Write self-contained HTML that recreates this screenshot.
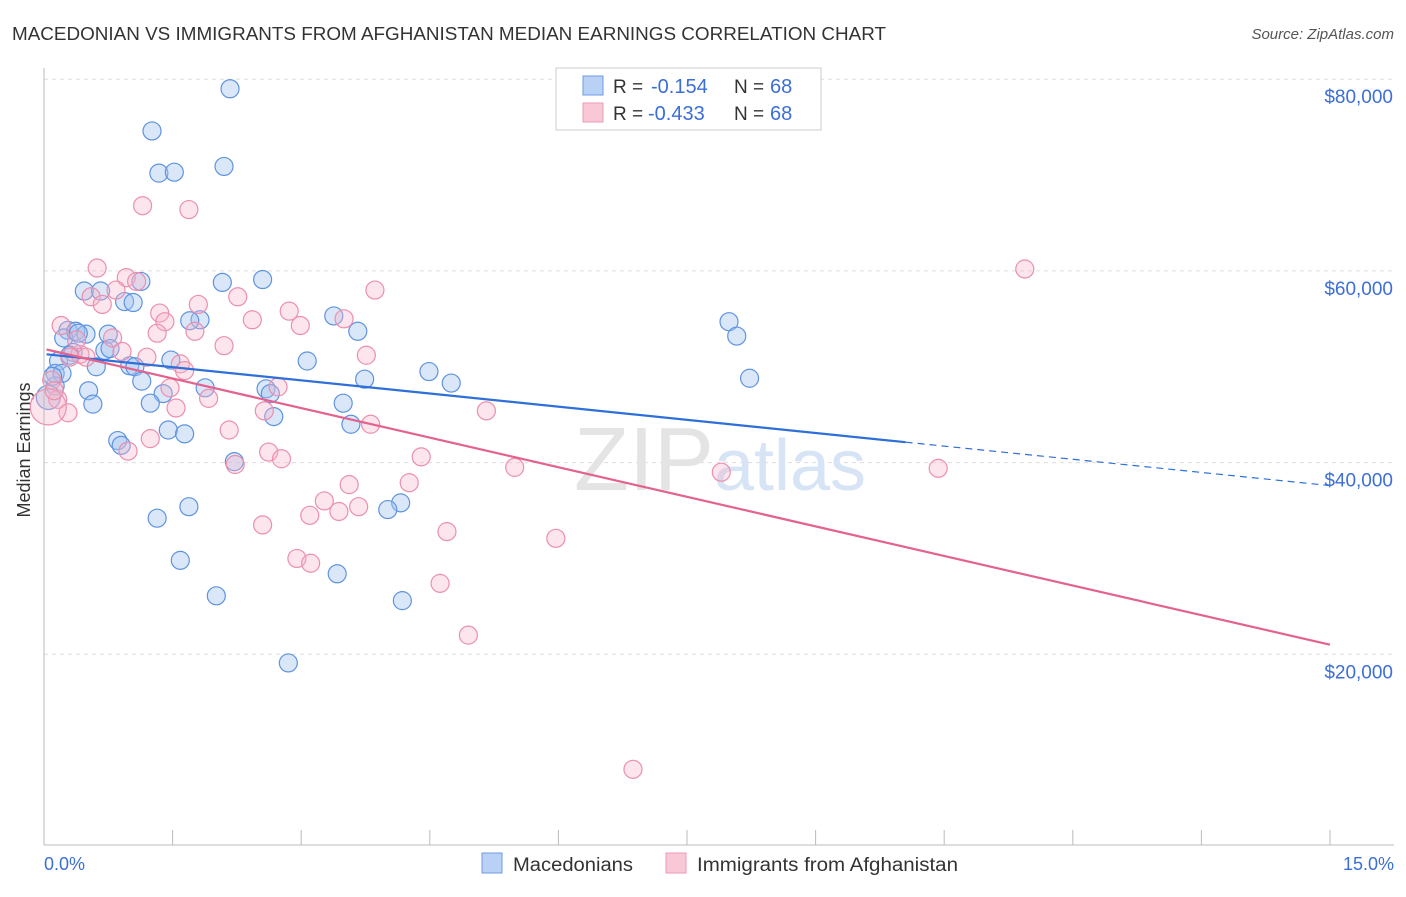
<!DOCTYPE html>
<html><head><meta charset="utf-8"><style>
body{margin:0;background:#fff;font-family:"Liberation Sans",sans-serif;}
svg text{font-family:"Liberation Sans",sans-serif;}
</style></head><body>
<svg id="chart" width="1406" height="892" viewBox="0 0 1406 892">
<text x="12" y="40" font-size="18" fill="#333" textLength="874" lengthAdjust="spacingAndGlyphs">MACEDONIAN VS IMMIGRANTS FROM AFGHANISTAN MEDIAN EARNINGS CORRELATION CHART</text>
<text x="1394" y="39" font-size="15" fill="#555" text-anchor="end" font-style="italic">Source: ZipAtlas.com</text>
<text x="38" y="458" font-size="18" fill="#333" text-anchor="middle" transform="rotate(-90 30 458)">Median Earnings</text>
<g id="grid"></g>
<text x="720" y="490" font-size="90" fill="#e4e4e4" text-anchor="middle" font-family="Liberation Serif">ZIP<tspan fill="#d6e4f5" font-family="Liberation Sans" font-size="72">atlas</tspan></text>
<g id="points"></g>
<g id="trends"></g>
<line x1="44" y1="68" x2="44" y2="845" stroke="#bbb"/>
<line x1="44" y1="845" x2="1394" y2="845" stroke="#bbb"/>
<g id="xticks"></g>
<text x="44" y="870" font-size="18" fill="#3b6fd6">0.0%</text>
<text x="1394" y="870" font-size="18" fill="#3b6fd6" text-anchor="end">15.0%</text>
<g>
<rect x="556" y="68" width="265" height="62" fill="#fff" stroke="#ccc"/>
<rect x="583" y="76" width="20" height="19" fill="#b9d1f5" stroke="#6d9be3"/>
<rect x="583" y="103" width="20" height="19" fill="#f9c8d7" stroke="#eb9ab4"/>
<text x="613" y="93" font-size="19" fill="#333">R =</text>
<text x="651" y="93" font-size="20" fill="#3b6fd6">-0.154</text>
<text x="734" y="93" font-size="19" fill="#333">N =</text>
<text x="770" y="93" font-size="20" fill="#3b6fd6">68</text>
<text x="613" y="120" font-size="19" fill="#333">R =</text>
<text x="648" y="120" font-size="20" fill="#3b6fd6">-0.433</text>
<text x="734" y="120" font-size="19" fill="#333">N =</text>
<text x="770" y="120" font-size="20" fill="#3b6fd6">68</text>
</g>
<g>
<rect x="482" y="853" width="20" height="20" fill="#b9d1f5" stroke="#6d9be3"/>
<text x="513" y="871" font-size="19" fill="#333" textLength="120" lengthAdjust="spacingAndGlyphs">Macedonians</text>
<rect x="666" y="853" width="20" height="20" fill="#f9c8d7" stroke="#eb9ab4"/>
<text x="697" y="871" font-size="19" fill="#333" textLength="261" lengthAdjust="spacingAndGlyphs">Immigrants from Afghanistan</text>
</g>
</svg>
<script>
const yTicks=[20000,40000,60000,80000];
const yTickLabels=["$20,000","$40,000","$60,000","$80,000"];
const xTicks=[0,1.5,3,4.5,6,7.5,9,10.5,12,13.5,15];
const blueX=[2.17,1.26,1.34,1.52,2.10,2.55,2.08,1.13,0.47,0.94,1.04,0.66,3.38,3.66,1.82,1.70,7.99,8.08,0.28,0.37,0.49,0.75,0.23,0.34,0.71,0.77,0.17,1.48,3.07,0.61,1.00,1.06,0.13,0.21,4.49,1.14,3.74,4.75,8.23,0.13,0.52,1.88,2.59,2.64,1.39,0.57,1.24,3.49,2.68,3.58,1.45,1.64,0.86,0.90,2.22,4.16,4.01,1.69,1.32,1.59,3.42,2.01,4.18,2.85,0.05,0.10,0.30,0.40];
const blueY=[79000,74600,70200,70300,70900,59100,58800,58900,57900,56800,56700,57900,55300,53700,54900,54800,54700,53200,53800,53700,53400,53400,53000,51500,51700,51900,50600,50700,50600,50000,50100,50000,49300,49300,49500,48500,48700,48300,48800,48000,47500,47800,47700,47200,47200,46100,46200,46200,44800,44000,43400,43000,42300,41800,40100,35800,35100,35400,34200,29800,28400,26100,25600,19100,46800,49000,51200,53500];
const pinkX=[1.15,1.69,0.62,11.44,0.96,1.08,0.84,3.86,0.55,0.68,2.26,1.80,2.86,1.35,1.41,2.43,3.50,0.20,2.99,1.32,1.76,0.80,2.10,0.91,0.42,0.49,1.20,3.76,1.59,1.64,0.09,1.47,2.73,1.92,0.16,1.54,0.28,5.16,2.57,3.81,2.16,1.24,0.98,2.62,2.77,4.40,2.23,5.49,7.90,10.43,4.26,3.56,3.27,3.67,3.44,3.10,2.55,4.70,5.97,2.95,3.11,4.62,4.95,6.87,0.05,0.12,0.30,0.38];
const pinkY=[66800,66400,60300,60200,59300,58900,58000,58000,57300,56500,57300,56500,55800,55600,54700,54900,55000,54300,54300,53500,53700,53000,52200,51600,51300,51000,51000,51200,50300,49600,48600,47800,47900,46700,46600,45700,45200,45400,45400,44000,43400,42500,41200,41100,40400,40600,39800,39500,39000,39400,37900,37700,36000,35400,34900,34500,33500,32800,32100,30000,29500,27400,22000,8000,45800,47500,51000,52800];
const blueTrend=[51300,37600];
const pinkTrend=[51800,21000];
const blueSolidEnd=10.05;
const NS="http://www.w3.org/2000/svg";
const X=v=>44+v/15*1286;
const Y=v=>846-v/20000*191.7;
function mk(t,a,p){const e=document.createElementNS(NS,t);for(const k in a)e.setAttribute(k,a[k]);p.appendChild(e);return e;}
const grid=document.getElementById('grid');
yTicks.forEach((v,i)=>{
 const l=mk('line',{x1:44,x2:1394,y1:Y(v),y2:Y(v),stroke:'#ddd','stroke-dasharray':'4,4'},grid);
 
 
 const t=mk('text',{x:1393,y:Y(v)+24,'font-size':19,fill:'#3b6fd6','text-anchor':'end'},grid);
 t.textContent=yTickLabels[i];
 
 
});
const xt=document.getElementById('xticks');
xTicks.forEach(v=>{
 const l=mk('line',{x1:X(v),x2:X(v),y1:830,y2:845,stroke:'#bbb'},xt);
 
 
});
const pts=document.getElementById('points');
blueX.forEach((x,i)=>{
 const c=mk('circle',{cx:X(x),cy:Y(blueY[i]),r:i==64?12:9,fill:'rgba(160,195,240,0.4)',stroke:'#5f93e0','stroke-width':1.2},pts);
 
 
});
pinkX.forEach((x,i)=>{
 const c=mk('circle',{cx:X(x),cy:Y(pinkY[i]),r:i==64?18:9,fill:'rgba(245,180,200,0.35)',stroke:'#ec8fae','stroke-width':1.2},pts);
 
 
});
const tr=document.getElementById('trends');
const by=x=>blueTrend[0]+(blueTrend[1]-blueTrend[0])*(x-0.03)/(15-0.03);
let l1=mk('line',{x1:X(0.03),y1:Y(blueTrend[0]),x2:X(blueSolidEnd),y2:Y(by(blueSolidEnd)),stroke:'#2e6fd8','stroke-width':2.2},tr);


let l2=mk('line',{x1:X(blueSolidEnd),y1:Y(by(blueSolidEnd)),x2:X(15),y2:Y(blueTrend[1]),stroke:'#2e6fd8','stroke-width':1.2,'stroke-dasharray':'7,5'},tr);


let l3=mk('line',{x1:X(0.03),y1:Y(pinkTrend[0]),x2:X(15),y2:Y(pinkTrend[1]),stroke:'#e4628e','stroke-width':2.2},tr);


</script>
</body></html>
